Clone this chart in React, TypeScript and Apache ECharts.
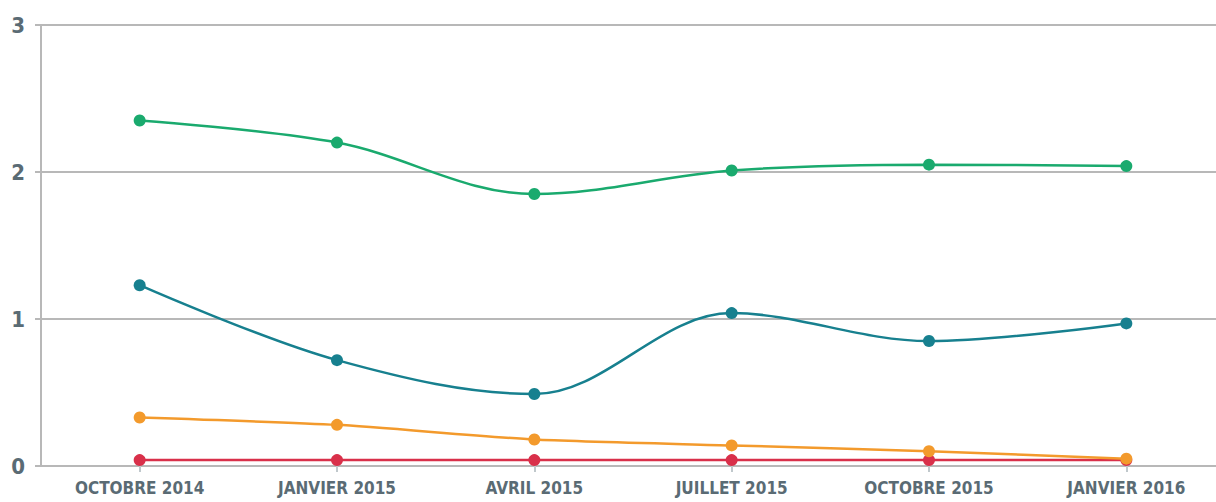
import React, { useEffect, useRef } from "react";
import * as echarts from "echarts";

const categories = ["OCTOBRE 2014", "JANVIER 2015", "AVRIL 2015", "JUILLET 2015", "OCTOBRE 2015", "JANVIER 2016"];
const greenValues = [2.35, 2.2, 1.85, 2.01, 2.05, 2.04];
const tealValues = [1.23, 0.72, 0.49, 1.04, 0.85, 0.97];
const orangeValues = [0.33, 0.28, 0.18, 0.14, 0.1, 0.05];
const redValues = [0.04, 0.04, 0.04, 0.04, 0.04, 0.04];

const FONT = "'Liberation Sans Narrow', 'DejaVu Sans Condensed', sans-serif";

export default function App() {
  const ref = useRef<HTMLDivElement>(null);
  useEffect(() => {
    if (!ref.current) return;
    const chart = echarts.init(ref.current, undefined, { renderer: "svg" });
    const mk = (name: string, data: number[], color: string, smooth: number, z: number) => ({
      name,
      type: "line",
      data,
      smooth,
      z,
      symbol: "circle",
      symbolSize: 12,
      showSymbol: true,
      lineStyle: { color, width: 2.5 },
      itemStyle: { color },
    });
    chart.setOption({
      animation: false,
      backgroundColor: "#ffffff",
      grid: { left: 41, top: 25, width: 1184, height: 441, containLabel: false },
      xAxis: {
        type: "category",
        data: categories,
        boundaryGap: true,
        axisLine: { show: true, lineStyle: { color: "#b8b8b8", width: 2 } },
        axisTick: { show: true, alignWithLabel: true, length: 6, lineStyle: { color: "#c0c8cc", width: 2 } },
        axisLabel: {
          color: "#5a6b74",
          fontFamily: FONT,
          fontWeight: "bold",
          fontSize: 17,
          margin: 13,
          interval: 0,
        },
        splitLine: { show: false },
      },
      yAxis: {
        type: "value",
        min: 0,
        max: 3,
        interval: 1,
        axisLine: { show: true, lineStyle: { color: "#b8b8b8", width: 2 } },
        axisTick: { show: true, length: 6, lineStyle: { color: "#b8b8b8", width: 2 } },
        axisLabel: {
          color: "#5a6b74",
          fontFamily: FONT,
          fontWeight: "bold",
          fontSize: 22,
          margin: 16,
        },
        splitLine: { show: true, lineStyle: { color: "#b8b8b8", width: 2 } },
      },
      series: [
        mk("Vert", greenValues, "#1aaa6e", 0.35, 4),
        mk("Bleu", tealValues, "#17808f", 0.35, 3),
        mk("Rouge", redValues, "#d9304a", 0, 1),
        mk("Orange", orangeValues, "#f39a2c", 0.2, 2),
      ],
    });
    return () => chart.dispose();
  }, []);
  return (
    <div
      ref={ref}
      style={{ position: "fixed", left: 0, top: 0, width: 1232, height: 502, background: "#fff" }}
    />
  );
}
